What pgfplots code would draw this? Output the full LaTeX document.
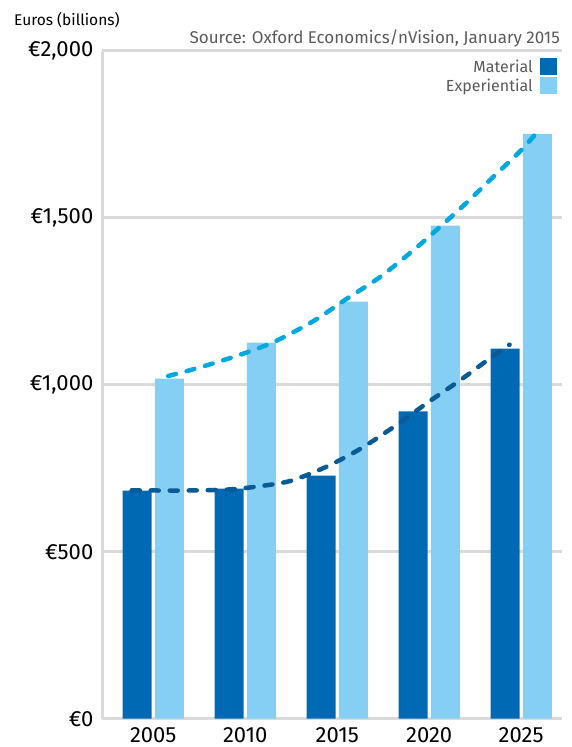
\documentclass[border=0pt]{standalone}
\usepackage{fontspec}
\setmainfont{Fira Sans}
\usepackage{pgfplots}
\pgfplotsset{compat=1.18}
\definecolor{matbar}{HTML}{0069B4}
\definecolor{expbar}{HTML}{85CFF4}
\definecolor{matline}{HTML}{0A5A96}
\definecolor{expline}{HTML}{00A8E0}
\definecolor{gridgray}{HTML}{DADADA}
\definecolor{srcgray}{HTML}{5A5A5A}
\begin{document}
\begin{tikzpicture}
\begin{axis}[
  at={(0pt,0pt)}, anchor=south west,
  scale only axis, width=459pt, height=668pt,
  xmin=-0.552, xmax=4.439, ymin=0, ymax=2000,
  axis x line*=bottom, axis y line*=left,
  axis line style={draw=gridgray, line width=3pt, -},
  ytick={0,500,1000,1500,2000},
  yticklabels={{€0},{€500},{€1,000},{€1,500},{€2,000}},
  xtick={0,1,2,3,4},
  xticklabels={2005,2010,2015,2020,2025},
  major tick length=0pt,
  tick style={draw=none},
  ymajorgrids, grid style={draw=gridgray, line width=2.5pt},
  ticklabel style={font=\fontsize{22}{26}\selectfont, text=black},
  yticklabel style={anchor=east, inner sep=0pt, xshift=-9pt},
  xticklabel style={anchor=base, inner sep=0pt, yshift=-24pt},
  legend style={draw=none, fill=none, at={(1,1)}, anchor=north east,
    xshift=-4.5pt, yshift=-7pt, inner sep=0pt,
    nodes={inner sep=0pt}, column sep=7pt, row sep=2pt,
    font=\fontsize{16}{19}\selectfont, text=srcgray},
  legend plot pos=right,
  legend cell align=right,
]
\addplot[ybar, bar width=0.315, bar shift=-0.175, fill=matbar, draw=none,
  legend image code/.code={\fill[matbar] (0pt,-8pt) rectangle (17pt,9pt);}]
  coordinates {(0,683) (1,689) (2,728) (3,920) (4,1108)};
\addlegendentry{Material}
\addplot[ybar, bar width=0.315, bar shift=0.176, fill=expbar, draw=none,
  legend image code/.code={\fill[expbar] (0pt,-8pt) rectangle (17pt,9pt);}]
  coordinates {(0,1018) (1,1126) (2,1249) (3,1476) (4,1751)};
\addlegendentry{Experiential}
\addplot[forget plot, smooth, matline, line width=4.5pt, line cap=round,
  dash pattern=on 8pt off 11pt]
  coordinates {(-0.234,684) (0.293,683) (0.801,686) (1.127,695) (1.492,712)
    (1.888,755) (2.258,809) (2.617,874) (2.987,947) (3.345,1015) (3.671,1081) (3.874,1120)};
\addplot[forget plot, smooth, expline, line width=4.5pt, line cap=round,
  dash pattern=on 8pt off 11pt]
  coordinates {(0.163,1026) (0.508,1052) (0.948,1090) (1.312,1128) (1.739,1190)
    (2.102,1257) (2.464,1322) (2.826,1402) (3.116,1472) (3.407,1545) (3.696,1622)
    (3.986,1698) (4.168,1754)};
\end{axis}
\node[anchor=base west, inner sep=0pt, font=\fontsize{15.5}{18}\selectfont] at (-88.5pt,692.7pt) {Euros (billions)};
\node[anchor=base east, inner sep=0pt, font=\fontsize{17}{20}\selectfont, text=srcgray] at (457.5pt,674.7pt) {Source: Oxford Economics/nVision, January 2015};
\pgfresetboundingbox
\path[use as bounding box] (-102.5pt,-28.3pt) rectangle (469.5pt,718.7pt);
\end{tikzpicture}
\end{document}
